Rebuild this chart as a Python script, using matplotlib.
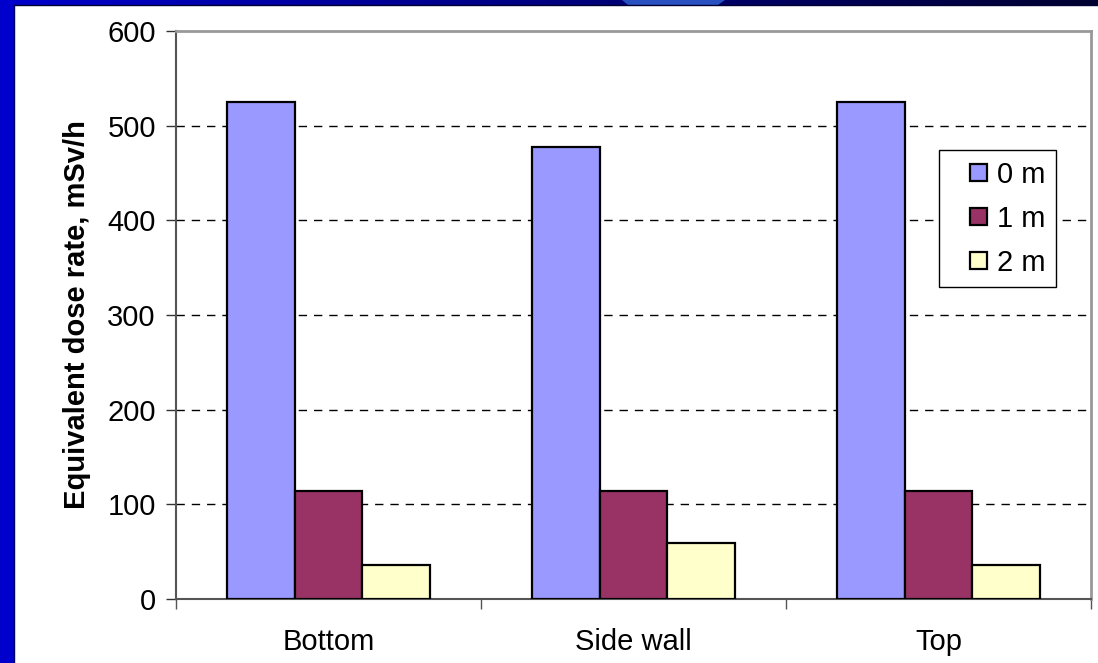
import numpy as np
import matplotlib
matplotlib.use('Agg')
import matplotlib.pyplot as plt
from matplotlib.patches import Polygon, Rectangle
from matplotlib.legend_handler import HandlerPatch

categories = ['Bottom', 'Side wall', 'Top']
series_names = ['0 m', '1 m', '2 m']
dose_0m = [525, 478, 525]
dose_1m = [114, 114, 114]
dose_2m = [36, 59, 36]
colors = ['#9999FF', '#993366', '#FFFFCC']

plt.rcParams['font.family'] = ['Liberation Sans', 'DejaVu Sans']

fig = plt.figure(figsize=(10.98, 6.63), dpi=100)

# slide background: blue strip on the left and on top
bg = fig.add_axes([0, 0, 1, 1], zorder=-10)
bg.set_xlim(0, 1098)
bg.set_ylim(663, 0)
bg.axis('off')
grad = np.linspace(0, 1, 256).reshape(1, -1)
top_cmap = matplotlib.colors.LinearSegmentedColormap.from_list('top', ['#0000CC', '#000080', '#000030'])
bg.imshow(grad, extent=(0, 1098, 5, 0), aspect='auto', cmap=top_cmap)
bg.add_patch(Polygon([[622, 0], [725, 0], [718, 5], [628, 5]], facecolor='#2850C0', edgecolor='none'))
bg.add_patch(Rectangle((0, 0), 14, 663, facecolor='#0000CC', edgecolor='none'))
bg.plot([14, 14], [5, 663], color='#000066', lw=1)
bg.plot([14, 1098], [5, 5], color='#000033', lw=1)

ax = fig.add_axes([0.1603, 0.0965, 0.8333, 0.8567])

x = np.arange(len(categories))
w = 0.222
for i, vals in enumerate([dose_0m, dose_1m, dose_2m]):
    ax.bar(x + (i - 1) * w, vals, width=w, color=colors[i], edgecolor='black',
           linewidth=1.6, zorder=3)

ax.set_xlim(-0.5, len(categories) - 0.5)
ax.set_ylim(0, 600)
ax.set_yticks(np.arange(0, 601, 100))
ax.set_xticks(np.arange(-0.5, len(categories), 1.0))
ax.set_xticklabels([])
ax.set_xticks(x, minor=True)
ax.set_xticklabels(categories, minor=True)
ax.tick_params(axis='x', which='minor', length=0, pad=21, labelsize=21)
ax.tick_params(axis='x', which='major', length=7, width=1, color='#555555', direction='out')
ax.tick_params(axis='y', length=7.5, width=1, color='#333333', direction='out', pad=7, labelsize=21)

for y in range(100, 600, 100):
    ax.axhline(y, color='black', lw=1, dashes=(6, 5), zorder=1)

for s in ['top', 'right']:
    ax.spines[s].set_color('#999999')
    ax.spines[s].set_linewidth(2)
for s in ['left', 'bottom']:
    ax.spines[s].set_color('#555555')
    ax.spines[s].set_linewidth(1.5)

ax.set_ylabel('Equivalent dose rate, mSv/h', fontsize=21, fontweight='bold', labelpad=12)


def square_patch(legend, orig_handle, xdescent, ydescent, width, height, fontsize):
    s = 0.58 * fontsize
    return Rectangle((width - s - xdescent, -ydescent + (height - s) / 2), s, s)


handles = [Rectangle((0, 0), 1, 1, facecolor=c, edgecolor='black', linewidth=1.6) for c in colors]
leg = ax.legend(handles, series_names, loc='upper right', bbox_to_anchor=(0.962, 0.79),
                borderaxespad=0, fontsize=21, handlelength=1.3, handleheight=0.6,
                handletextpad=0.35, labelspacing=0.55, borderpad=0.35, fancybox=False,
                framealpha=1, edgecolor='black',
                handler_map={Rectangle: HandlerPatch(patch_func=square_patch)})
leg.get_frame().set_linewidth(1)

fig.savefig('out.png', dpi=100)
